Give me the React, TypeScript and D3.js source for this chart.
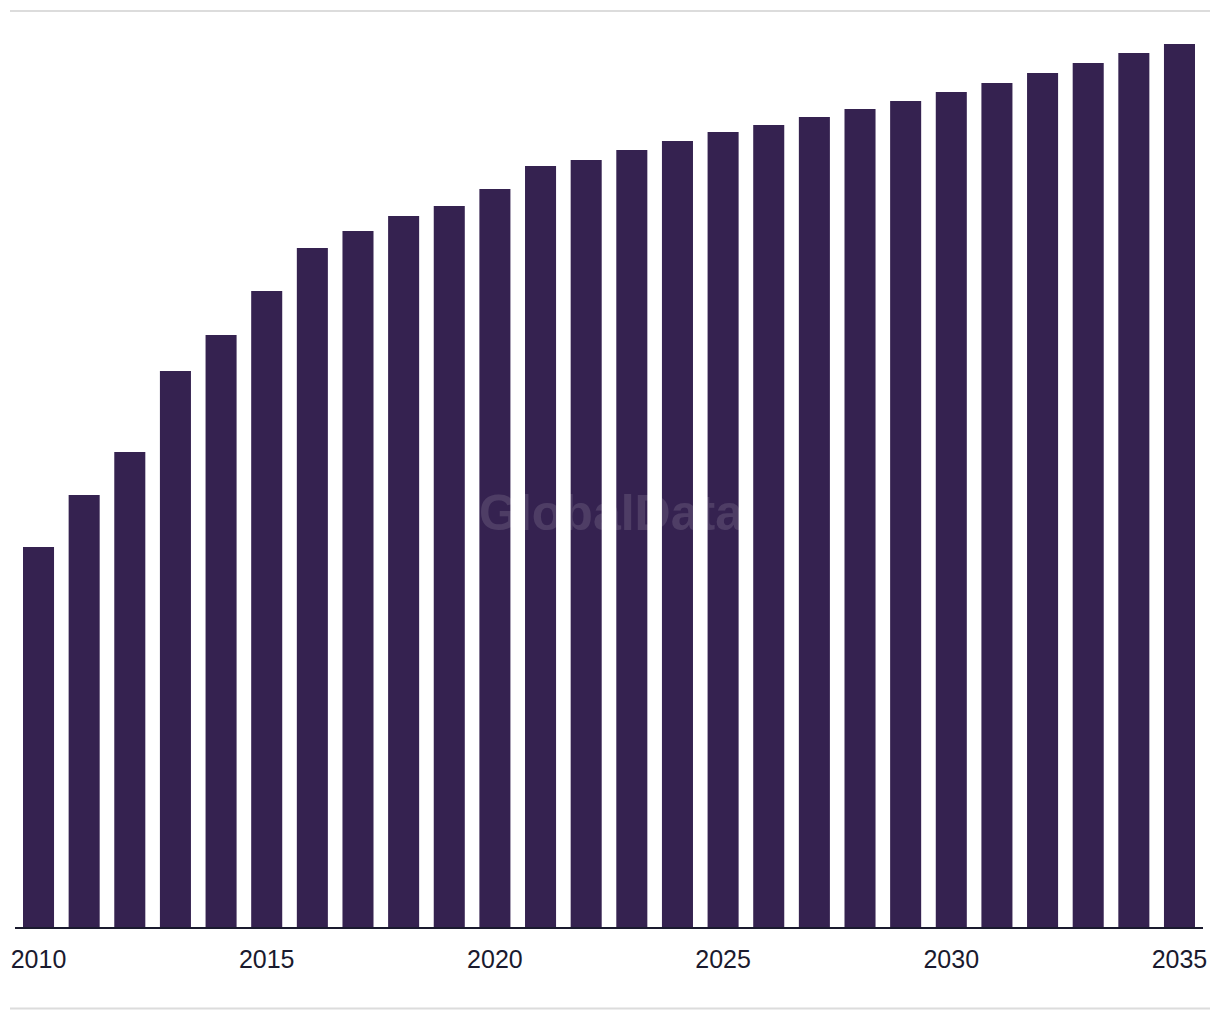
import React, { useEffect, useRef } from "react";
import * as d3 from "d3";

const years = [
  2010, 2011, 2012, 2013, 2014, 2015, 2016, 2017, 2018, 2019, 2020, 2021, 2022,
  2023, 2024, 2025, 2026, 2027, 2028, 2029, 2030, 2031, 2032, 2033, 2034, 2035,
];
// relative values (no y labels in the source)
const values = [
  381, 433, 476, 557, 593, 637, 680, 697, 712, 722, 739, 762, 768, 778, 787,
  796, 803, 811, 819, 827, 836, 845, 855, 865, 875, 884,
];
const tickYears = [2010, 2015, 2020, 2025, 2030, 2035];

const W = 1220;
const H = 1020;

const App: React.FC = () => {
  const svgRef = useRef<SVGSVGElement>(null);

  useEffect(() => {
    if (!svgRef.current) return;
    const svg = d3.select(svgRef.current);
    svg.selectAll("*").remove();

    const data = years.map((y, i) => ({ year: y, value: values[i] }));

    const x = d3
      .scaleBand<number>()
      .domain(years)
      .range([23, 1195])
      .paddingInner(0.32)
      .paddingOuter(0);

    const y = d3.scaleLinear().domain([0, 917]).range([928, 11]);

    // frame lines
    svg
      .append("line")
      .attr("x1", 10)
      .attr("x2", 1210)
      .attr("y1", 11)
      .attr("y2", 11)
      .attr("stroke", "#dcdcdc")
      .attr("stroke-width", 2);
    svg
      .append("line")
      .attr("x1", 10)
      .attr("x2", 1210)
      .attr("y1", 1008.5)
      .attr("y2", 1008.5)
      .attr("stroke", "#dcdcdc")
      .attr("stroke-width", 2);

    // bars
    svg
      .append("g")
      .selectAll("rect")
      .data(data)
      .enter()
      .append("rect")
      .attr("x", (d) => x(d.year) || 0)
      .attr("y", (d) => y(d.value))
      .attr("width", x.bandwidth())
      .attr("height", (d) => y(0) - y(d.value))
      .attr("fill", "#352250");

    // watermark
    svg
      .append("text")
      .attr("x", 611)
      .attr("y", 512)
      .attr("dy", "0.35em")
      .attr("text-anchor", "middle")
      .attr("font-family", "Liberation Sans, Arial, sans-serif")
      .attr("font-weight", "bold")
      .attr("font-size", 50)
      .attr("fill", "#ffffff")
      .attr("opacity", 0.12)
      .text("GlobalData");

    // x axis
    const axis = svg.append("g").attr("transform", `translate(0,${y(0)})`);
    axis
      .append("line")
      .attr("x1", 15)
      .attr("x2", 1203)
      .attr("stroke", "#1a1a2e")
      .attr("stroke-width", 2);
    axis
      .selectAll("text")
      .data(tickYears)
      .enter()
      .append("text")
      .attr("x", (d) => (x(d) || 0) + x.bandwidth() / 2)
      .attr("y", 40)
      .attr("text-anchor", "middle")
      .attr("font-family", "Liberation Sans, Arial, sans-serif")
      .attr("font-size", 25)
      .attr("fill", "#1a1a2e")
      .text((d) => String(d));
  }, []);

  return (
    <svg
      ref={svgRef}
      width={W}
      height={H}
      style={{ position: "absolute", left: 0, top: 0, background: "#fff" }}
    />
  );
};

export default App;
